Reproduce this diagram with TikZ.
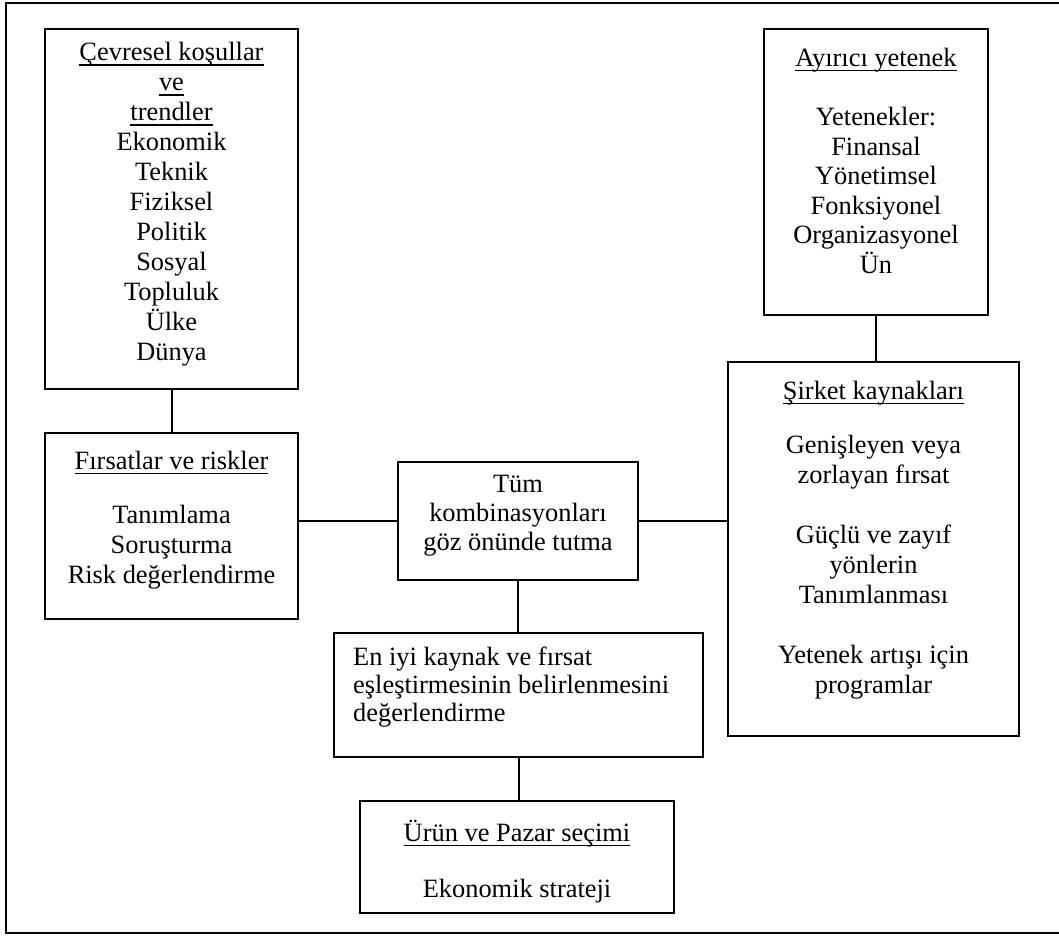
\documentclass[tikz,border=0pt]{standalone}
\usepackage{fontspec}
\setmainfont{Liberation Serif}

% body text size and an underline at a fixed depth below the baseline
\newcommand\bodyfont{\fontsize{26.4pt}{30pt}\selectfont}
\newsavebox\ulbox
\newcommand\ulx[1]{\sbox\ulbox{#1}\rlap{\rule[-5pt]{\wd\ulbox}{1.5pt}}\usebox\ulbox}

\begin{document}
\begin{tikzpicture}[x=1pt,y=-1pt,
  box/.style={draw, line width=2pt, inner sep=0pt, anchor=north west},
  txt/.style={inner sep=0pt, align=center, anchor=north, font=\bodyfont,
              execute at begin node={\rule{0pt}{24pt}}},
  wire/.style={line width=2pt},
  frameline/.style={line width=2.6pt}]

\useasboundingbox (0,0) rectangle (1059,936);

% outer frame
\draw[frameline] (1059,3) -- (6,3) -- (6,933) -- (1059,933);

% boxes
\node[box, minimum width=253pt, minimum height=360pt] (cev) at (44,28) {};
\node[box, minimum width=224pt, minimum height=286pt] (ayr) at (763,28) {};
\node[box, minimum width=253pt, minimum height=186pt] (fir) at (44,432) {};
\node[box, minimum width=240pt, minimum height=118pt] (tum) at (397,461) {};
\node[box, minimum width=291pt, minimum height=374pt] (sir) at (727,361) {};
\node[box, minimum width=369pt, minimum height=124pt] (eni) at (333,632) {};
\node[box, minimum width=314pt, minimum height=112pt] (uru) at (359,800) {};

% texts
\node[txt] (cevt) at (cev.north |- 0,42)
  {\ulx{Çevresel koşullar}\\ \ulx{ve}\\ \ulx{trendler}\\ Ekonomik\\ Teknik\\
   Fiziksel\\ Politik\\ Sosyal\\ Topluluk\\ Ülke\\ Dünya};

\node[txt] (ayrt) at (ayr.north |- 0,42) {\ulx{Ayırıcı yetenek}};
\node[txt, font=\fontsize{26.4pt}{29.5pt}\selectfont] (ayrb) at (ayr.north |- 0,107)
  {Yetenekler:\\ Finansal\\ Yönetimsel\\ Fonksiyonel\\ Organizasyonel\\ Ün};

\node[txt] (firt) at (fir.north |- 0,445) {\ulx{Fırsatlar ve riskler}};
\node[txt] (firb) at (fir.north |- 0,505)
  {Tanımlama\\ Soruşturma\\ Risk değerlendirme};

\node[txt, font=\fontsize{26.4pt}{29pt}\selectfont] (tumt) at (tum.north |- 0,475)
  {Tüm\\ kombinasyonları\\ göz önünde tutma};

\node[txt] (sirt) at (sir.north |- 0,375) {\ulx{Şirket kaynakları}};
\node[txt] (sirb) at (sir.north |- 0,435)
  {Genişleyen veya\\ zorlayan fırsat\\[30pt] Güçlü ve zayıf\\ yönlerin\\
   Tanımlanması\\[30pt] Yetenek artışı için\\ programlar};

\node[txt, align=left, anchor=north west, font=\fontsize{26.4pt}{28pt}\selectfont]
  (enit) at (353,647)
  {En iyi kaynak ve fırsat\\ eşleştirmesinin belirlenmesini\\ değerlendirme};

\node[txt] (urut) at (uru.north |- 0,817) {\ulx{Ürün ve Pazar seçimi}};
\node[txt] (urub) at (uru.north |- 0,873) {Ekonomik strateji};

% connectors
\draw[wire] (cev.south) -- (fir.north);
\draw[wire] (ayr.south) -- (ayr.south |- sir.north);
\draw[wire] (tum.west -| fir.east) -- (tum.west);
\draw[wire] (tum.east) -- (tum.east -| sir.west);
\draw[wire] (tum.south) -- (tum.south |- eni.north);
\draw[wire] (eni.south) -- (eni.south |- uru.north);

\end{tikzpicture}
\end{document}
